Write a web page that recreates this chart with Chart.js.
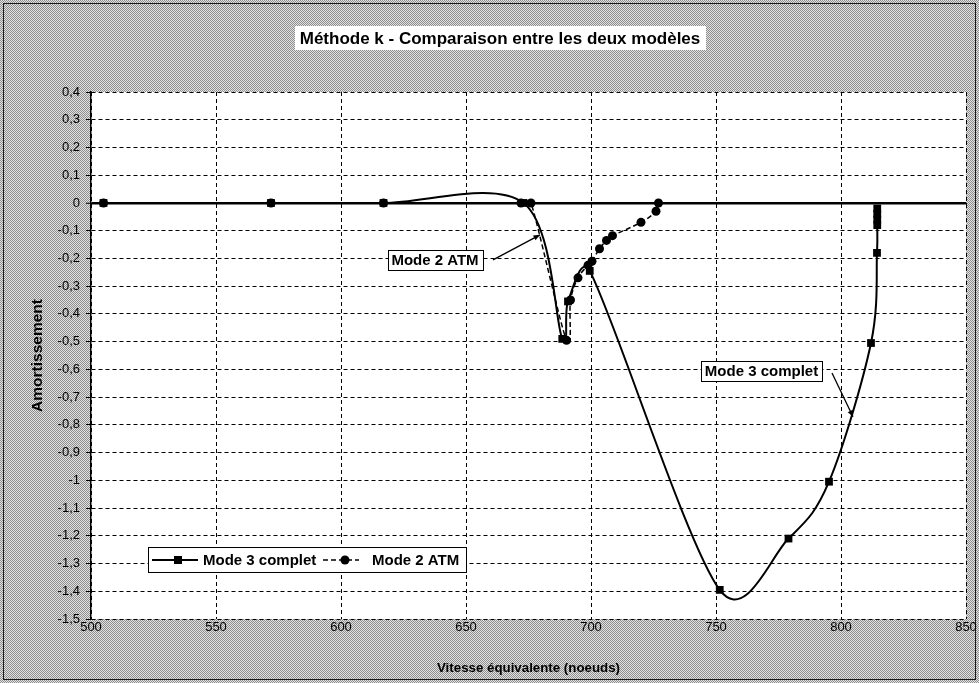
<!DOCTYPE html>
<html>
<head>
<meta charset="utf-8">
<script src="https://cdn.jsdelivr.net/npm/chart.js@4/dist/chart.umd.min.js"></script>
<style>
  html, body { margin: 0; padding: 0; background: #ffffff; }
  #wrap { width: 979px; height: 683px; }
</style>
</head>
<body>
<div id="wrap"><canvas id="c" width="979" height="683"></canvas></div>
<script>
// Vitesse équivalente (noeuds) / amortissement, méthode k
const mode3Speed = [505, 572, 617, 673, 688.5, 690.8, 699.5, 751.5, 779, 795.2, 812, 814.4, 814.5, 814.5, 814.5, 814.5];
const mode3Damping = [0, 0, 0, 0, -0.49, -0.355, -0.245, -1.395, -1.21, -1.005, -0.505, -0.18, -0.08, -0.06, -0.04, -0.02];

const mode2Speed = [505, 572, 617, 672, 676, 690.2, 691.8, 694.8, 698.8, 700.4, 703.4, 706.2, 708.6, 720, 726, 727];
const mode2Damping = [0, 0, 0, 0, 0, -0.495, -0.35, -0.27, -0.225, -0.21, -0.165, -0.135, -0.118, -0.07, -0.03, 0];

const seriesNames = ['Mode 3 complet', 'Mode 2 ATM'];
const chartTitle = 'Méthode k - Comparaison entre les deux modèles';
const xTitle = 'Vitesse équivalente (noeuds)';
const yTitle = 'Amortissement';
const xMin = 500, xMax = 850, xStep = 50;
const yMin = -1.5, yMax = 0.4, yStep = 0.1;

const FONT = '"Liberation Sans", Arial, sans-serif';

function pairs(xs, ys) { return xs.map((x, i) => ({ x: x, y: ys[i] })); }
function isZero(v) { return Math.abs(v) < 1e-9; }
function frLabel(v) {
  const n = Number(Number(v).toFixed(1));
  return (isZero(n) ? '0' : String(n)).replace('.', ',');
}

// Callout labels placed in data units, arrow pointing at the curve
const callouts = [
  { text: seriesNames[1], at: [637.6, -0.205], from: [660.8, -0.205], to: [679.6, -0.115] },
  { text: seriesNames[0], at: [768.2, -0.607], from: [796.4, -0.613], to: [804.8, -0.771] }
];

// Dithered grey background
function makePattern(ctx) {
  const p = document.createElement('canvas');
  p.width = 2; p.height = 2;
  const g = p.getContext('2d');
  g.fillStyle = '#e2e2e2'; g.fillRect(0, 0, 2, 2);
  g.fillStyle = '#8e8e8e'; g.fillRect(0, 0, 1, 1); g.fillRect(1, 1, 1, 1);
  return ctx.createPattern(p, 'repeat');
}

// Spreadsheet-style smoothing: Bezier handles at 1/6 of the neighbour span,
// shortened where they would overrun a short segment.
const smoothing = {
  id: 'smoothing',
  beforeDatasetsDraw(chart) {
    chart.data.datasets.forEach((ds, di) => {
      const meta = chart.getDatasetMeta(di);
      const line = meta.dataset;
      const pts = meta.data;
      if (!line || !pts.length) return;
      const n = pts.length;
      for (let i = 0; i < n; i++) {
        const cur = pts[i];
        const prev = pts[Math.max(0, i - 1)];
        const next = pts[Math.min(n - 1, i + 1)];
        const dx = (next.x - prev.x) / 6, dy = (next.y - prev.y) / 6;
        const arm = Math.hypot(dx, dy);
        const dIn = Math.hypot(cur.x - prev.x, cur.y - prev.y);
        const dOut = Math.hypot(next.x - cur.x, next.y - cur.y);
        const kIn = arm > 0 ? Math.min(1, 0.5 * dIn / arm) : 0;
        const kOut = arm > 0 ? Math.min(1, 0.5 * dOut / arm) : 0;
        cur.cp1x = cur.x - dx * kIn; cur.cp1y = cur.y - dy * kIn;
        cur.cp2x = cur.x + dx * kOut; cur.cp2y = cur.y + dy * kOut;
      }
      line._pointsUpdated = true;
      line._path = undefined;
    });
  }
};

const frame = {
  id: 'frame',
  beforeDraw(chart) {
    const { ctx, chartArea: a } = chart;
    ctx.save();
    ctx.fillStyle = makePattern(ctx);
    ctx.fillRect(0, 0, chart.width, chart.height);
    ctx.strokeStyle = '#1a1a1a';
    ctx.lineWidth = 1;
    ctx.strokeRect(3.5, 3.5, chart.width - 7, chart.height - 7);
    ctx.fillStyle = '#ffffff';
    ctx.fillRect(a.left, a.top, a.right - a.left, a.bottom - a.top);
    ctx.restore();
  },
  beforeDatasetsDraw(chart) {
    // small tick marks hanging below the zero line
    const { ctx } = chart;
    const xs = chart.scales.x, ys = chart.scales.y;
    const y0 = ys.getPixelForValue(0);
    ctx.save();
    ctx.strokeStyle = '#000';
    ctx.lineWidth = 1;
    xs.ticks.forEach(t => {
      const px = Math.round(xs.getPixelForValue(t.value)) + 0.5;
      ctx.beginPath();
      ctx.moveTo(px, y0);
      ctx.lineTo(px, y0 + 5);
      ctx.stroke();
    });
    ctx.restore();
  },
  afterDraw(chart) {
    const { ctx, chartArea: a } = chart;
    const xs = chart.scales.x, ys = chart.scales.y;
    ctx.save();

    // title in a white box
    ctx.font = 'bold 17px ' + FONT;
    ctx.textAlign = 'center';
    ctx.textBaseline = 'middle';
    const tw = ctx.measureText(chartTitle).width;
    const cx = 500, cy = 38;
    ctx.fillStyle = '#ffffff';
    ctx.fillRect(Math.round(cx - tw / 2 - 5), cy - 12, Math.round(tw + 10), 24);
    ctx.fillStyle = '#000';
    ctx.fillText(chartTitle, cx, cy + 1);

    // callouts
    ctx.font = 'bold 15px ' + FONT;
    callouts.forEach(c => {
      const bx = xs.getPixelForValue(c.at[0]), by = ys.getPixelForValue(c.at[1]);
      const w = Math.round(ctx.measureText(c.text).width + 8), h = 20;
      const x0 = Math.round(bx - w / 2) + 0.5, y0 = Math.round(by - h / 2) + 0.5;
      ctx.fillStyle = '#ffffff';
      ctx.fillRect(x0, y0, w, h);
      ctx.strokeStyle = '#000';
      ctx.lineWidth = 1;
      ctx.strokeRect(x0, y0, w, h);
      ctx.fillStyle = '#000';
      ctx.fillText(c.text, bx, by + 1);

      const fx = xs.getPixelForValue(c.from[0]), fy = ys.getPixelForValue(c.from[1]);
      const tx = xs.getPixelForValue(c.to[0]), ty = ys.getPixelForValue(c.to[1]);
      ctx.beginPath();
      ctx.moveTo(fx, fy);
      ctx.lineTo(tx, ty);
      ctx.lineWidth = 1.3;
      ctx.stroke();
      const ang = Math.atan2(ty - fy, tx - fx);
      ctx.beginPath();
      ctx.moveTo(tx, ty);
      ctx.lineTo(tx - 7 * Math.cos(ang - 0.4), ty - 7 * Math.sin(ang - 0.4));
      ctx.lineTo(tx - 7 * Math.cos(ang + 0.4), ty - 7 * Math.sin(ang + 0.4));
      ctx.closePath();
      ctx.fill();
    });

    // legend box inside the plot
    const lx = a.left + 57, ly = a.bottom - 72, lw = 318, lh = 25;
    ctx.fillStyle = '#ffffff';
    ctx.fillRect(lx + 0.5, ly + 0.5, lw, lh);
    ctx.strokeStyle = '#000';
    ctx.lineWidth = 1;
    ctx.strokeRect(lx + 0.5, ly + 0.5, lw, lh);
    const my = ly + lh / 2 + 0.5;
    const ds = chart.data.datasets;
    ctx.beginPath();
    ctx.setLineDash([]);
    ctx.lineWidth = ds[0].borderWidth;
    ctx.moveTo(lx + 4, my); ctx.lineTo(lx + 50, my); ctx.stroke();
    ctx.fillStyle = '#000';
    ctx.fillRect(lx + 26, my - 4, 8, 8);
    ctx.textAlign = 'left';
    ctx.fillText(ds[0].label, lx + 55, my + 1);
    ctx.beginPath();
    ctx.setLineDash(ds[1].borderDash);
    ctx.lineWidth = ds[1].borderWidth;
    ctx.moveTo(lx + 175, my); ctx.lineTo(lx + 211, my); ctx.stroke();
    ctx.setLineDash([]);
    ctx.beginPath();
    ctx.arc(lx + 197, my, 4.5, 0, Math.PI * 2);
    ctx.fill();
    ctx.fillText(ds[1].label, lx + 224, my + 1);

    ctx.restore();
  }
};

new Chart(document.getElementById('c'), {
  type: 'scatter',
  data: {
    datasets: [
      {
        label: seriesNames[0],
        data: pairs(mode3Speed, mode3Damping),
        showLine: true,
        tension: 0.4,
        borderColor: '#000',
        backgroundColor: '#000',
        borderWidth: 2,
        pointStyle: 'rect',
        pointRadius: 5.5,
        pointBorderWidth: 0,
        order: 2
      },
      {
        label: seriesNames[1],
        data: pairs(mode2Speed, mode2Damping),
        showLine: true,
        tension: 0.4,
        borderColor: '#000',
        backgroundColor: '#000',
        borderWidth: 1.5,
        borderDash: [5, 3],
        pointStyle: 'circle',
        pointRadius: 4.5,
        pointBorderWidth: 0,
        order: 1
      }
    ]
  },
  options: {
    responsive: false,
    animation: false,
    devicePixelRatio: 1,
    layout: { padding: { top: 92, right: 13, bottom: 0, left: 0 } },
    plugins: {
      legend: { display: false },
      title: { display: false },
      tooltip: { enabled: false }
    },
    scales: {
      x: {
        type: 'linear',
        min: xMin, max: xMax,
        afterFit(s) { s.height = 64; },
        ticks: { stepSize: xStep, color: '#000', padding: 1, font: { family: FONT, size: 13 } },
        grid: { color: '#000', lineWidth: 1, drawTicks: false },
        border: { display: false, dash: [4, 3] },
        title: { display: true, text: xTitle, color: '#000', font: { family: FONT, size: 13.3, weight: 'bold' }, padding: { top: 0, bottom: 7 } }
      },
      y: {
        min: yMin, max: yMax,
        afterFit(s) { s.width = 91; },
        ticks: { stepSize: yStep, color: '#000', padding: 6, font: { family: FONT, size: 13 }, callback: v => frLabel(v) },
        grid: {
          color: '#000',
          lineWidth: c => (c.tick && isZero(c.tick.value)) ? 2.5 : 1,
          tickLength: 5, tickColor: '#000', tickWidth: 1
        },
        border: { display: true, color: '#000', width: 1.5, dash: c => (c.tick && isZero(c.tick.value)) ? [] : [4, 3] },
        title: { display: true, text: yTitle, color: '#000', font: { family: FONT, size: 15.5, weight: 'bold' }, padding: { top: 28, bottom: 0 } }
      }
    }
  },
  plugins: [smoothing, frame]
});
</script>
</body>
</html>
